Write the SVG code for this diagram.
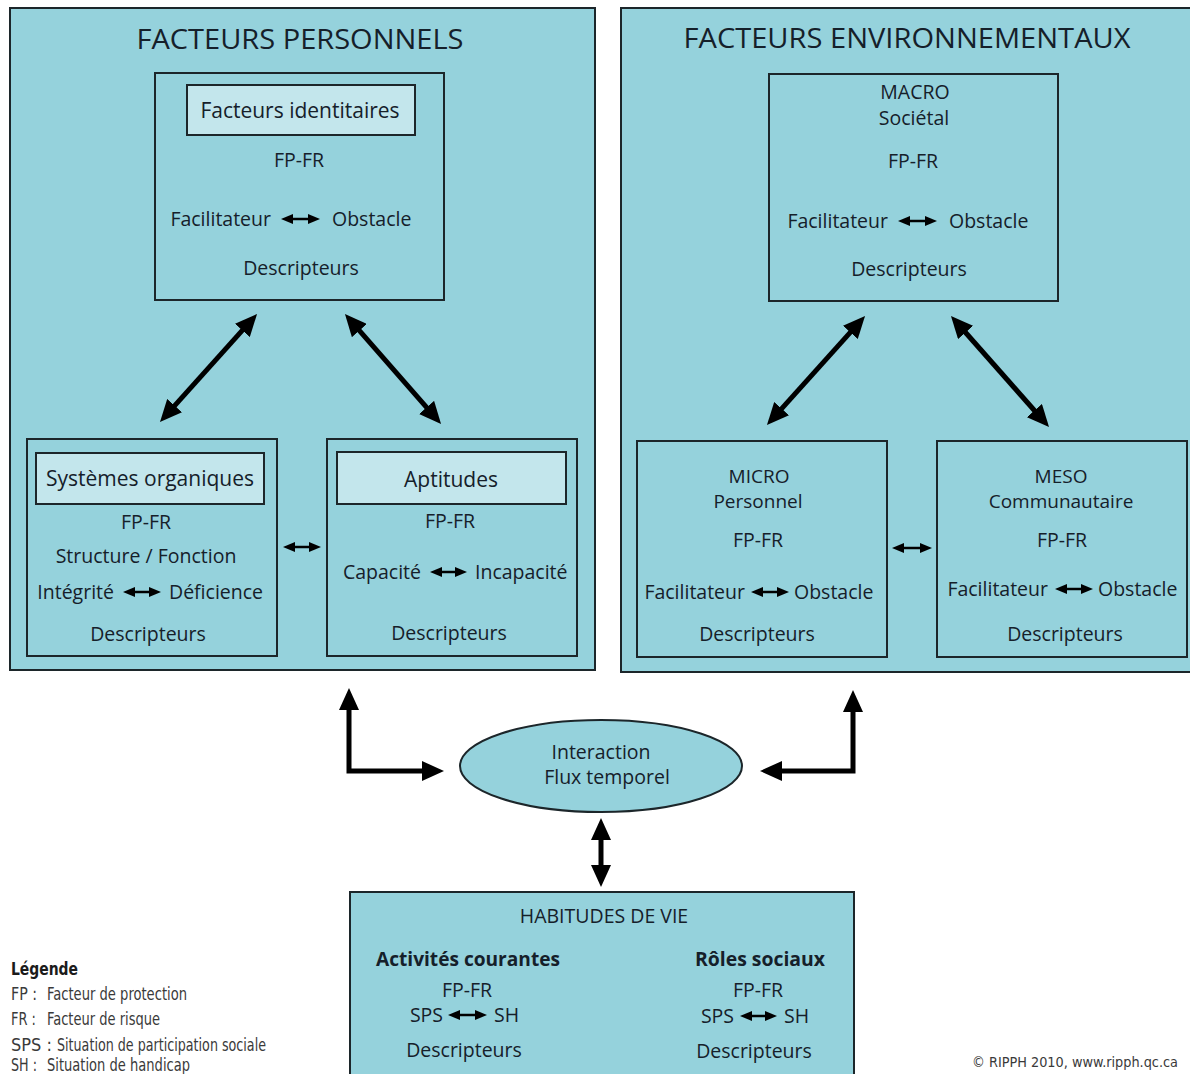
<svg xmlns="http://www.w3.org/2000/svg" width="1190" height="1074" viewBox="0 0 1190 1074">
<defs>
<style>
.box{fill:#95d2dc;stroke:#1c262a;stroke-width:2}
.inner{fill:#c3e6ec;stroke:#1c262a;stroke-width:2}
text{font-family:"Open Sans","Noto Sans","DejaVu Sans",sans-serif;fill:#15202a;font-size:19.5px;font-weight:500}
.c{text-anchor:middle}
.e{text-anchor:end}
.title{font-size:27px}
.ib{font-size:21px}
.b{font-weight:bold}
.big{stroke:#000;stroke-width:5;fill:none;marker-start:url(#ah);marker-end:url(#ah)}
.sm{stroke:#000;stroke-width:2.5;fill:none;marker-start:url(#sh);marker-end:url(#sh)}
.leg{font-family:"Liberation Sans Narrow","DejaVu Sans Condensed","Liberation Sans",sans-serif;font-stretch:condensed;fill:#3a3a3a;font-size:18px;font-weight:normal}
</style>
<marker id="ah" viewBox="0 0 22 20" refX="4" refY="10" markerWidth="22" markerHeight="20" markerUnits="userSpaceOnUse" orient="auto-start-reverse"><path d="M0,0 L22,10 L0,20 z" fill="#000"/></marker>
<marker id="sh" viewBox="0 0 12 10" refX="3" refY="5" markerWidth="12" markerHeight="10" markerUnits="userSpaceOnUse" orient="auto-start-reverse"><path d="M0,0 L12,5 L0,10 z" fill="#000"/></marker>
</defs>
<rect width="1190" height="1074" fill="#ffffff"/>

<g id="facteurs-personnels">
<rect class="box" x="10" y="8" width="585" height="662"/>
<text class="c title" x="300" y="49" textLength="327" lengthAdjust="spacingAndGlyphs">FACTEURS PERSONNELS</text>
</g>
<g id="facteurs-environnementaux">
<rect class="box" x="621" y="8" width="580" height="664"/>
<text class="c title" x="907" y="48" textLength="447" lengthAdjust="spacingAndGlyphs">FACTEURS ENVIRONNEMENTAUX</text>
</g>

<g id="facteurs-identitaires">
<rect class="box" x="155" y="73" width="289" height="227"/>
<rect class="inner" x="187" y="85" width="228" height="50"/>
<text class="c ib" x="300" y="118">Facteurs identitaires</text>
<text class="c" x="299" y="167">FP-FR</text>
<text class="e" x="271" y="226">Facilitateur</text>
<line class="sm" x1="290" y1="219" x2="311" y2="219"/>
<text x="332" y="226">Obstacle</text>
<text class="c" x="301" y="275">Descripteurs</text>
</g>

<g id="macro">
<rect class="box" x="769" y="74" width="289" height="227"/>
<text class="c" x="915" y="99">MACRO</text>
<text class="c" x="914" y="125">Sociétal</text>
<text class="c" x="913" y="168">FP-FR</text>
<text class="e" x="888" y="228">Facilitateur</text>
<line class="sm" x1="907" y1="221" x2="928" y2="221"/>
<text x="949" y="228">Obstacle</text>
<text class="c" x="909" y="276">Descripteurs</text>
</g>

<g id="systemes-organiques">
<rect class="box" x="27" y="439" width="250" height="217"/>
<rect class="inner" x="36" y="453" width="228" height="51"/>
<text class="c ib" x="150" y="486">Systèmes organiques</text>
<text class="c" x="146" y="529">FP-FR</text>
<text class="c" x="146" y="563">Structure / Fonction</text>
<text class="e" x="114" y="599">Intégrité</text>
<line class="sm" x1="132" y1="592" x2="152" y2="592"/>
<text x="169" y="599">Déficience</text>
<text class="c" x="148" y="641">Descripteurs</text>
</g>

<g id="aptitudes">
<rect class="box" x="327" y="439" width="250" height="217"/>
<rect class="inner" x="337" y="452" width="229" height="52"/>
<text class="c ib" x="451" y="487">Aptitudes</text>
<text class="c" x="450" y="528">FP-FR</text>
<text class="e" x="421" y="579">Capacité</text>
<line class="sm" x1="439" y1="572" x2="458" y2="572"/>
<text x="475" y="579">Incapacité</text>
<text class="c" x="449" y="640">Descripteurs</text>
</g>

<g id="micro">
<rect class="box" x="637" y="441" width="250" height="216"/>
<text class="c" x="759" y="483" style="font-size:19px">MICRO</text>
<text class="c" x="758" y="508" style="font-size:19px">Personnel</text>
<text class="c" x="758" y="547">FP-FR</text>
<text class="e" x="745" y="599">Facilitateur</text>
<line class="sm" x1="760" y1="592" x2="780" y2="592"/>
<text x="794" y="599">Obstacle</text>
<text class="c" x="757" y="641">Descripteurs</text>
</g>

<g id="meso">
<rect class="box" x="937" y="441" width="250" height="216"/>
<text class="c" x="1061" y="483" style="font-size:19px">MESO</text>
<text class="c" x="1061" y="508" style="font-size:19px">Communautaire</text>
<text class="c" x="1062" y="547">FP-FR</text>
<text class="e" x="1048" y="596">Facilitateur</text>
<line class="sm" x1="1064" y1="589" x2="1084" y2="589"/>
<text x="1098" y="596">Obstacle</text>
<text class="c" x="1065" y="641">Descripteurs</text>
</g>

<g id="interaction">
<ellipse class="box" cx="601" cy="766" rx="141" ry="46"/>
<text class="c" x="601" y="759">Interaction</text>
<text class="c" x="607" y="784">Flux temporel</text>
</g>

<g id="habitudes-de-vie">
<rect class="box" x="350" y="892" width="504" height="190"/>
<text class="c" x="604" y="923">HABITUDES DE VIE</text>
<text class="c b" x="468" y="966" textLength="184" lengthAdjust="spacingAndGlyphs">Activités courantes</text>
<text class="c b" x="760" y="966" textLength="130" lengthAdjust="spacingAndGlyphs">Rôles sociaux</text>
<text class="c" x="467" y="997">FP-FR</text>
<text class="e" x="443" y="1022">SPS</text>
<line class="sm" x1="457" y1="1015" x2="478" y2="1015"/>
<text x="494" y="1022">SH</text>
<text class="c" x="464" y="1057">Descripteurs</text>
<text class="c" x="758" y="997">FP-FR</text>
<text class="e" x="734" y="1023">SPS</text>
<line class="sm" x1="749" y1="1016" x2="768" y2="1016"/>
<text x="784" y="1023">SH</text>
<text class="c" x="754" y="1058">Descripteurs</text>
</g>

<g id="connectors">
<line class="big" x1="172" y1="408.6" x2="245" y2="327.4"/>
<line class="big" x1="356.8" y1="327.6" x2="429.2" y2="410.4"/>
<line class="big" x1="779" y1="411.6" x2="853" y2="329.4"/>
<line class="big" x1="962.9" y1="329.5" x2="1037.1" y2="413.5"/>
<line class="sm" x1="292" y1="547" x2="312" y2="547"/>
<line class="sm" x1="901" y1="548" x2="923" y2="548"/>
<path class="big" d="M349,706 L349,771 L426,771"/>
<path class="big" d="M853,708 L853,771 L778,771"/>
<line class="big" x1="601" y1="836" x2="601" y2="869"/>
</g>

<g id="legende">
<text class="leg" x="11" y="975" style="fill:#1b1b1b;font-weight:bold" textLength="67" lengthAdjust="spacingAndGlyphs">Légende</text>
<text class="leg" x="11" y="1000" textLength="26" lengthAdjust="spacingAndGlyphs">FP :</text>
<text class="leg" x="47" y="1000" textLength="140" lengthAdjust="spacingAndGlyphs">Facteur de protection</text>
<text class="leg" x="11" y="1025" textLength="25" lengthAdjust="spacingAndGlyphs">FR :</text>
<text class="leg" x="47" y="1025" textLength="113" lengthAdjust="spacingAndGlyphs">Facteur de risque</text>
<text class="leg" x="11" y="1051" textLength="41" lengthAdjust="spacingAndGlyphs">SPS :</text>
<text class="leg" x="57" y="1051" textLength="209" lengthAdjust="spacingAndGlyphs">Situation de participation sociale</text>
<text class="leg" x="11" y="1071" textLength="26" lengthAdjust="spacingAndGlyphs">SH :</text>
<text class="leg" x="47" y="1071" textLength="143" lengthAdjust="spacingAndGlyphs">Situation de handicap</text>
</g>
<text class="leg" x="972" y="1067" style="font-size:14px" textLength="206" lengthAdjust="spacingAndGlyphs">© RIPPH 2010, www.ripph.qc.ca</text>
</svg>
